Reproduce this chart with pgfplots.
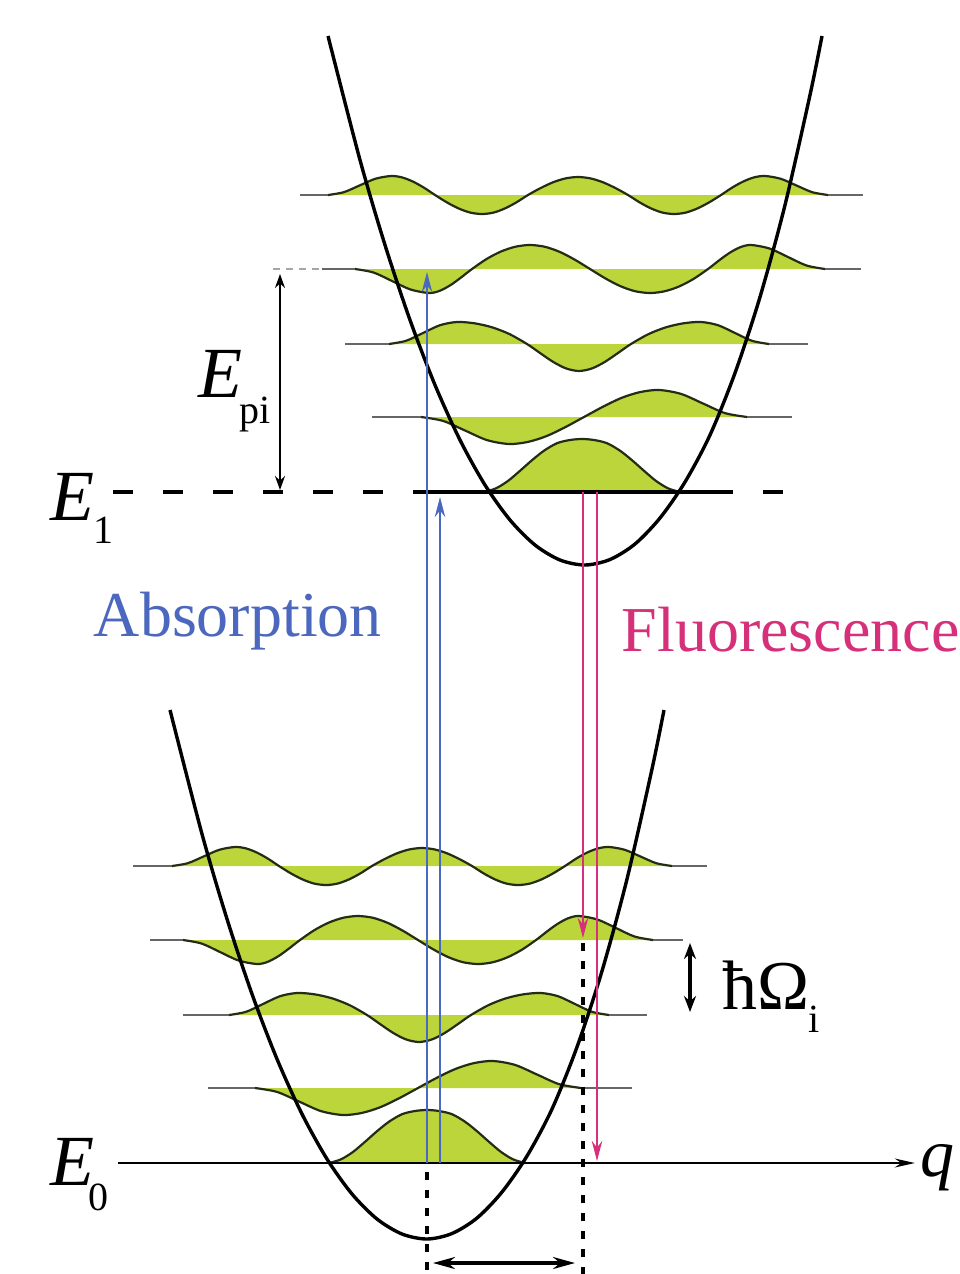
\documentclass[border=0pt]{standalone}
\usepackage{pgfplots}
\usepackage{pgfplotstable}
\pgfplotsset{compat=1.18}
\usetikzlibrary{arrows.meta}
\usepackage{fontspec}
\setmainfont{Liberation Serif}
\definecolor{wg}{RGB}{188,213,58}
\definecolor{wl}{RGB}{35,45,20}
\definecolor{ab}{RGB}{76,104,190}
\definecolor{fl}{RGB}{214,48,122}

% potentials (pixel coordinates, y downwards)
\pgfplotstableread{
x y
170 710
202 834
227 919
252 994
277 1059
302 1114
327 1159
352 1194
377 1219
402 1234
427 1239
452 1233.5
477 1218
502 1192
527 1156
552 1109
577 1047
602 971
627 879
652 769
664 710
}\lpot
\pgfplotstableread{
x y
328 36
360 160
385 245
410 320
435 385
460 440
485 485
510 520
535 545
560 560
585 565
610 559.5
635 544
660 518
685 482
710 435
735 373
760 297
785 205
810 95
822 36
}\upot
% lower wavefunctions
\pgfplotstableread{
x y
329 1163
341 1159.3
353 1151.9
365 1141.8
377 1131.2
389 1121.7
402 1114.2
415 1111
427 1110
439 1111
452 1114.2
465 1121.7
477 1131.2
489 1141.8
501 1151.9
513 1159.3
525 1163
}\lzero
\pgfplotstableread{
x y
255 1088
277 1091.9
299 1101.5
321 1111.1
343 1115
362 1112.9
380.5 1107.1
399 1098.3
418 1088
437 1077.7
455.5 1068.9
474 1063.1
493 1061
515 1064.9
537 1074.5
559 1084.1
581 1088
}\lone
\pgfplotstableread{
x y
229 1015
246 1011.8
263 1004
280 996.2
297 993
314.5 994.3
332 998.3
349.5 1005.1
367 1015
380 1024.0
393 1032.8
406 1039.4
419 1042
432 1039.4
445 1032.8
458 1024.0
471 1015
488.5 1005.1
506 998.3
523.5 994.3
541 993
558 996.2
575 1004
592 1011.8
609 1015
}\ltwo
\pgfplotstableread{
x y
183 940
201.5 943.5
220 952
238.5 960.5
257 964
267.75 961.8
278.5 956.1
289.25 948.35
300 940
314.5 930.05
329 922.5
343.5 917.7
358 916
373 917.8
388 923
403 930.8
418 940
433 949.2
448 957
463 962.2
478 964
492.5 962.3
507 957.5
521.5 949.95
536 940
546.75 931.65
557.5 923.9
568.25 918.2
579 916
597.5 919.5
616 928
634.5 936.5
653 940
}\lthree
\pgfplotstableread{
x y
172 866
187.75 863.2
203.5 856.5
219.25 849.8
235 847
246 848.4
257 852.6
268 858.7
279 866
290.75 873.3
302.5 879.4
314.25 883.6
326 885
337.5 883.6
349 879.4
360.5 873.3
372 866
384.5 859.1
397 853.3
409.5 849.4
422 848
434.5 849.4
447 853.3
459.5 859.1
472 866
483.5 873.3
495 879.4
506.5 883.6
518 885
529.75 883.6
541.5 879.4
553.25 873.3
565 866
576 858.7
587 852.6
598 848.4
609 847
624.75 849.8
640.5 856.5
656.25 863.2
672 866
}\lfour
% upper wavefunctions
\pgfplotstableread{
x y
484 492
496 488.3
508 480.9
520 470.8
532 460.2
544 450.7
557 443.2
570 440
582 439
594 440
607 443.2
620 450.7
632 460.2
644 470.8
656 480.9
668 488.3
680 492
}\uzero
\pgfplotstableread{
x y
421 417
443 420.9
465 430.5
487 440.1
509 444
528 441.9
546.5 436.1
565 427.3
584 417
603 406.7
621.5 397.9
640 392.1
659 390
681 393.9
703 403.5
725 413.1
747 417
}\uone
\pgfplotstableread{
x y
389 344
406 340.8
423 333
440 325.2
457 322
474.5 323.3
492 327.3
509.5 334.1
527 344
540 353.0
553 361.8
566 368.4
579 371
592 368.4
605 361.8
618 353.0
631 344
648.5 334.1
666 327.3
683.5 323.3
701 322
718 325.2
735 333
752 340.8
769 344
}\utwo
\pgfplotstableread{
x y
355 269
373.5 272.5
392 281
410.5 289.5
429 293
439.75 290.8
450.5 285.1
461.25 277.35
472 269
486.5 259.05
501 251.5
515.5 246.7
530 245
545 246.8
560 252
575 259.8
590 269
605 278.2
620 286
635 291.2
650 293
664.5 291.3
679 286.5
693.5 278.95
708 269
718.75 260.65
729.5 252.9
740.25 247.2
751 245
769.5 248.5
788 257
806.5 265.5
825 269
}\uthree
\pgfplotstableread{
x y
328 195
343.75 192.2
359.5 185.5
375.25 178.8
391 176
402 177.4
413 181.6
424 187.7
435 195
446.75 202.3
458.5 208.4
470.25 212.6
482 214
493.5 212.6
505 208.4
516.5 202.3
528 195
540.5 188.1
553 182.3
565.5 178.4
578 177
590.5 178.4
603 182.3
615.5 188.1
628 195
639.5 202.3
651 208.4
662.5 212.6
674 214
685.75 212.6
697.5 208.4
709.25 202.3
721 195
732 187.7
743 181.6
754 177.4
765 176
780.75 178.8
796.5 185.5
812.25 192.2
828 195
}\ufour

\pgfplotsset{wfill/.style={draw=none, fill=wg, smooth},
             wline/.style={wl, line width=0.55pt, smooth},
             tail/.style={gray!80!black, line width=0.5pt}}

\begin{document}
\begin{tikzpicture}
\useasboundingbox (0,0) rectangle (240pt,318.5pt);
\clip (0,0) rectangle (240pt,318.5pt);
\begin{axis}[x=0.25pt, y=0.25pt, xmin=0, xmax=960, ymin=0, ymax=1274,
  y dir=reverse, hide axis, clip=false, at={(0,0)}, anchor=south west]

% fills
\addplot[wfill] table {\lzero} -- cycle;
\addplot[wfill] table {\lone} -- cycle;
\addplot[wfill] table {\ltwo} -- cycle;
\addplot[wfill] table {\lthree} -- cycle;
\addplot[wfill] table {\lfour} -- cycle;
\addplot[wfill] table {\uzero} -- cycle;
\addplot[wfill] table {\uone} -- cycle;
\addplot[wfill] table {\utwo} -- cycle;
\addplot[wfill] table {\uthree} -- cycle;
\addplot[wfill] table {\ufour} -- cycle;
% baseline tails
\addplot[tail] coordinates {(133,866) (172,866)};
\addplot[tail] coordinates {(672,866) (707,866)};
\addplot[tail] coordinates {(150,940) (183,940)};
\addplot[tail] coordinates {(653,940) (683,940)};
\addplot[tail] coordinates {(183,1015) (229,1015)};
\addplot[tail] coordinates {(609,1015) (647,1015)};
\addplot[tail] coordinates {(208,1088) (255,1088)};
\addplot[tail] coordinates {(581,1088) (632,1088)};
\addplot[tail] coordinates {(300,195) (328,195)};
\addplot[tail] coordinates {(828,195) (863,195)};
\addplot[tail] coordinates {(322,269) (355,269)};
\addplot[tail] coordinates {(825,269) (861,269)};
\addplot[tail] coordinates {(345,344) (389,344)};
\addplot[tail] coordinates {(769,344) (808,344)};
\addplot[tail] coordinates {(372,417) (421,417)};
\addplot[tail] coordinates {(747,417) (792,417)};
\addplot[gray!70, line width=0.6pt, dash pattern=on 1.75pt off 1.5pt] coordinates {(273,269) (320,269)};
% wave outlines
\addplot[wline] table {\lzero};
\addplot[wline] table {\lone};
\addplot[wline] table {\ltwo};
\addplot[wline] table {\lthree};
\addplot[wline] table {\lfour};
\addplot[wline] table {\uzero};
\addplot[wline] table {\uone};
\addplot[wline] table {\utwo};
\addplot[wline] table {\uthree};
\addplot[wline] table {\ufour};
% levels E0 and E1
\addplot[black, line width=0.7pt, -{Stealth[length=5pt,width=2.2pt]}] coordinates {(118,1163) (915,1163)};
\addplot[black, line width=0.8pt, dash pattern=on 5pt off 7.5pt] coordinates {(113,492) (785,492)};
\addplot[black, line width=0.8pt] coordinates {(418,492) (723,492)};
% potentials
\addplot[black, line width=0.85pt, smooth] table {\lpot};
\addplot[black, line width=0.85pt, smooth] table {\upot};
% dotted verticals
\addplot[black, line width=0.8pt, dash pattern=on 2pt off 2.5pt] coordinates {(427,1172) (427,1280)};
\addplot[black, line width=0.8pt, dash pattern=on 2pt off 2.5pt] coordinates {(583,943) (583,1280)};
% transitions
\addplot[ab, line width=0.5pt, -{Stealth[length=5pt,width=2.6pt]}] coordinates {(427,1163) (427,272)};
\addplot[ab, line width=0.5pt, -{Stealth[length=5pt,width=2.6pt]}] coordinates {(440,1163) (440,497)};
\addplot[fl, line width=0.6pt, -{Stealth[length=5pt,width=2.6pt]}] coordinates {(583,492) (583,938)};
\addplot[fl, line width=0.6pt, -{Stealth[length=5pt,width=2.6pt]}] coordinates {(597,492) (597,1161)};
% other arrows
\addplot[black, line width=0.8pt, {Stealth[length=5.5pt,width=3pt]}-{Stealth[length=5.5pt,width=3pt]}] coordinates {(433,1263) (575,1263)};
\addplot[black, line width=0.5pt, {Stealth[length=3.5pt,width=2.5pt]}-{Stealth[length=3.5pt,width=2.5pt]}] coordinates {(280,274) (280,490)};
\addplot[black, line width=0.8pt, {Stealth[length=4pt,width=3pt]}-{Stealth[length=4pt,width=3pt]}] coordinates {(690,943) (690,1012)};

% labels
\node[anchor=base west, inner sep=0, text=ab, font=\fontsize{16}{16}\selectfont] at (axis cs:93,636) {Absorption};
\node[anchor=base west, inner sep=0, text=fl, font=\fontsize{16}{16}\selectfont] at (axis cs:621,651) {Fluorescence};
\node[anchor=base west, inner sep=0, font=\fontsize{18}{18}\selectfont\itshape] at (axis cs:50,1185) {E};
\node[anchor=base west, inner sep=0, font=\fontsize{10}{10}\selectfont] at (axis cs:88,1210) {0};
\node[anchor=base west, inner sep=0, font=\fontsize{18}{18}\selectfont\itshape] at (axis cs:50,520) {E};
\node[anchor=base west, inner sep=0, font=\fontsize{10}{10}\selectfont] at (axis cs:93,543) {1};
\node[anchor=base west, inner sep=0, font=\fontsize{18}{18}\selectfont\itshape] at (axis cs:198,397) {E};
\node[anchor=base west, inner sep=0, font=\fontsize{10}{10}\selectfont] at (axis cs:239,423) {pi};
\node[anchor=base west, inner sep=0, font=\fontsize{17.5}{18}\selectfont] at (axis cs:722,1009) {ħΩ};
\node[anchor=base west, inner sep=0, font=\fontsize{10}{10}\selectfont] at (axis cs:808,1032) {i};
\node[anchor=base west, inner sep=0, font=\fontsize{17}{17}\selectfont\itshape] at (axis cs:920,1176) {q};
\end{axis}
\end{tikzpicture}
\end{document}
